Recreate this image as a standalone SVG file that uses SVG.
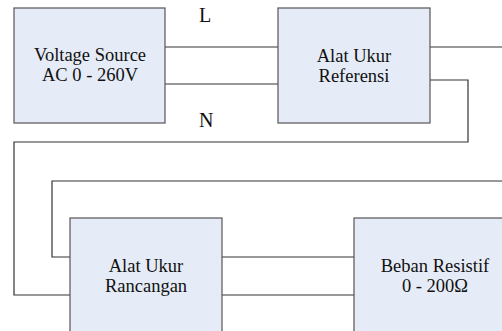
<svg xmlns="http://www.w3.org/2000/svg" width="502" height="331" viewBox="0 0 502 331">
<style>
.box{fill:#E6ECF7;stroke:#555;stroke-width:1.2}
.t{font-size:18.5px;fill:#111;text-anchor:middle}
.lbl{font-size:20px;fill:#111}
.w{fill:none;stroke:#333;stroke-width:1.2}
</style>
<rect width="502" height="331" fill="#fff"/>
<g id="connectors">
<path class="w" d="M165 47H278"/>
<path class="w" d="M165 84H278"/>
<path class="w" d="M430 47H502"/>
<path class="w" d="M430 80H468V142H14V295H70"/>
<path class="w" d="M502 181H52V257H70"/>
<path class="w" d="M222 257H354"/>
<path class="w" d="M222 295H354"/>
<text class="lbl" font-family="Liberation Serif, Times New Roman, serif" x="199" y="22">L</text>
<text class="lbl" font-family="Liberation Serif, Times New Roman, serif" x="199" y="127">N</text>
</g>
<g id="source" font-family="Liberation Serif, Times New Roman, serif">
<rect class="box" x="14" y="8" width="151" height="115"/>
<text class="t" x="90" y="61">Voltage Source</text>
<text class="t" x="90" y="81">AC 0 - 260V</text>
</g>
<g id="referensi" font-family="Liberation Serif, Times New Roman, serif">
<rect class="box" x="278" y="8" width="152" height="115"/>
<text class="t" x="354" y="62">Alat Ukur</text>
<text class="t" x="354" y="82">Referensi</text>
</g>
<g id="rancangan" font-family="Liberation Serif, Times New Roman, serif">
<rect class="box" x="70" y="218" width="152" height="118"/>
<text class="t" x="146" y="272">Alat Ukur</text>
<text class="t" x="146" y="292">Rancangan</text>
</g>
<g id="beban" font-family="Liberation Serif, Times New Roman, serif">
<rect class="box" x="354" y="218" width="162" height="118"/>
<text class="t" x="435" y="272">Beban Resistif</text>
<text class="t" x="435" y="292">0 - 200Ω</text>
</g>
</svg>
